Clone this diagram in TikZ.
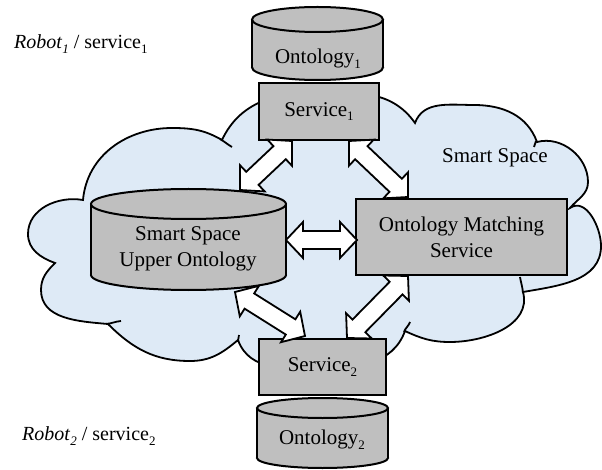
\documentclass[tikz,border=0pt]{standalone}
\usepackage{fontspec}
\setmainfont{Liberation Serif}
\usetikzlibrary{calc}
\definecolor{cloudblue}{RGB}{222,234,246}
\definecolor{boxgray}{RGB}{191,191,191}
\newcommand\lowsub[1]{\raisebox{-0.22em}{\fontsize{13}{13}\selectfont #1}}
\tikzset{
  cloudline/.style={draw=black,line width=1.8pt},
  cloudshape/.style={cloudline,fill=cloudblue},
  cylline/.style={draw=black,line width=2pt,fill=boxgray},
  cylfill/.style={fill=boxgray},
  boxnode/.style={draw=black,line width=2pt,fill=boxgray,inner sep=0pt,align=center},
  txt/.style={inner sep=0pt,align=center},
  sidelabel/.style={inner sep=0pt,anchor=west,font=\fontsize{20}{24}\selectfont},
  barrow/.style={draw=black,fill=white,line width=1.8pt,line join=miter},
}
% cylinder: xl, xr, ytop, ybottom, ry  (image coordinates, y downward)
\newcommand\cylshape[5]{%
  \filldraw[cylline] ({(#1+#2)/2},{-#4+#5}) ellipse ({(#2-#1)/2} and #5);
  \fill[cylfill] (#1,{-#3-#5}) rectangle (#2,{-#4+#5});
  \draw[cylline] (#1,{-#3-#5}) -- (#1,{-#4+#5}) (#2,{-#3-#5}) -- (#2,{-#4+#5});
  \filldraw[cylline] ({(#1+#2)/2},{-#3-#5}) ellipse ({(#2-#1)/2} and #5);}
% double block arrow between two named coordinates
\newcommand\blockarrow[2]{%
  \coordinate (ha) at ($(#1)!17pt!(#2)$);
  \coordinate (hb) at ($(#2)!17pt!(#1)$);
  \filldraw[barrow] (#1) -- ($(ha)!18pt!90:(#2)$) -- ($(ha)!9pt!90:(#2)$)
    -- ($(hb)!9pt!-90:(#1)$) -- ($(hb)!18pt!-90:(#1)$) -- (#2)
    -- ($(hb)!18pt!90:(#1)$) -- ($(hb)!9pt!90:(#1)$)
    -- ($(ha)!9pt!-90:(#2)$) -- ($(ha)!18pt!-90:(#2)$) -- cycle;}
\begin{document}
\begin{tikzpicture}[x=1pt,y=1pt,font=\fontsize{21}{26}\selectfont]
\useasboundingbox (0,0) rectangle (602,-470);
% cloud
\filldraw[cloudshape] (83,-200) to[out=85,in=180] (172,-128) to[out=0,in=150] (222,-140)
  to[out=65,in=180] (320,-92) to[out=0,in=125] (415,-123)
  to[out=70,in=180] (474,-105) to[out=0,in=110] (537,-142)
  to[out=15,in=90] (588,-182) to[out=-90,in=50] (570,-208)
  to[out=35,in=90] (601,-246) to[out=-90,in=10] (523,-292)
  to[out=-75,in=0] (450,-342) to[out=180,in=-25] (405,-331)
  to[out=-110,in=0] (322,-368) to[out=180,in=-70] (238,-340)
  to[out=-140,in=0] (190,-361) to[out=180,in=-45] (108,-324)
  to[out=175,in=-90] (41,-290) to[out=90,in=-135] (55,-263)
  to[out=160,in=-90] (28,-234) to[out=90,in=170] (83,-200) -- cycle;
% cloud inner tails
\draw[cloudline] (220,-139) to[out=-30,in=150] (232,-147);
\draw[cloudline] (106,-324) to[out=5,in=185] (121,-321);
\draw[cloudline] (523,-293) to[out=95,in=-80] (520,-277);
\draw[cloudline] (404,-332) to[out=70,in=-110] (410,-322);
\draw[cloudline] (536,-141) to[out=-80,in=100] (534,-147);
\draw[cloudline] (238,-341) to[out=80,in=-100] (239,-335);
% labels
\node[sidelabel] (robot1) at (14,-44) {\textit{Robot}\lowsub{\textit{1}} / service\lowsub{1}};
\node[sidelabel] (robot2) at (22,-436) {\textit{Robot}\lowsub{\textit{2}} / service\lowsub{2}};
\node[txt] (smartspace) at (495,-158) {Smart Space};
% cylinders
\cylshape{252}{383}{7}{80}{12.5}
\node[txt] (onto1) at (318,-59) {Ontology\lowsub{1}};
\cylshape{91}{286}{189}{290}{15}
\node[txt] (upper) at (188,-249) {Smart Space\\Upper Ontology};
\cylshape{257}{388}{398}{468}{10}
\node[txt] (onto2) at (322,-440) {Ontology\lowsub{2}};
% boxes
\node[boxnode,minimum width=120pt,minimum height=57pt] (s1) at (319,-111.5) {Service\lowsub{1}};
\node[boxnode,minimum width=211pt,minimum height=76pt] (oms) at (461.5,-237) {Ontology Matching\\Service};
\node[boxnode,minimum width=127pt,minimum height=56pt] (s2) at (322.5,-367) {Service\lowsub{2}};
% arrow end points
\coordinate (a1u) at (240,-190);  \coordinate (a1s) at (292,-141);
\coordinate (a2s) at (349,-141);  \coordinate (a2o) at (408,-197);
\coordinate (a3u) at (286,-240);  \coordinate (a3o) at (357,-240);
\coordinate (a4u) at (235,-292);  \coordinate (a4s) at (305,-336);
\coordinate (a5s) at (347,-338);  \coordinate (a5o) at (408,-276);
\blockarrow{a1u}{a1s}
\blockarrow{a2s}{a2o}
\blockarrow{a3u}{a3o}
\blockarrow{a4u}{a4s}
\blockarrow{a5s}{a5o}
\end{tikzpicture}
\end{document}
